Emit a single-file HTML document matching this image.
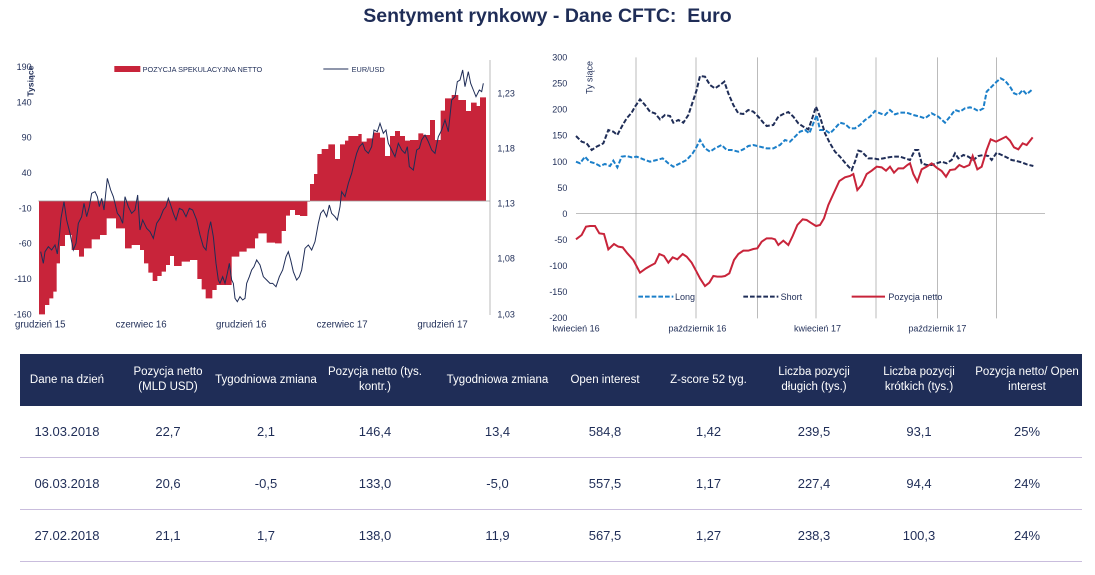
<!DOCTYPE html>
<html><head><meta charset="utf-8"><style>
body{margin:0;width:1095px;height:575px;background:#fff;position:relative;overflow:hidden;font-family:"Liberation Sans",sans-serif}
.t{position:absolute;left:0;width:1095px;top:5px;text-align:center;font-size:19.5px;font-weight:bold;color:#1f2d57}
svg{position:absolute}
table{position:absolute;left:20px;top:354px;width:1062px;border-collapse:collapse;table-layout:fixed}
th{background:#1f2d57;color:#fff;font-weight:normal;font-size:11.5px;height:52px;line-height:15px;padding:0;white-space:nowrap;font-family:"Liberation Sans",sans-serif}
th div{margin:0 -15px;text-align:center}
td{height:51px;padding:0;border-bottom:1px solid #c9bddd;text-align:center;font-size:13px;color:#1f2d57;font-family:"Liberation Sans",sans-serif}
</style></head><body>
<div class="t">Sentyment rynkowy - Dane CFTC:&nbsp; Euro</div>

<svg style="left:0;top:50px" width="540" height="280" viewBox="0 0 1620 840">
<g font-family="Liberation Sans, sans-serif" font-size="27" fill="#1f2d57">
<text x="95" y="60" text-anchor="end">190</text>
<text x="95" y="166" text-anchor="end">140</text>
<text x="95" y="272" text-anchor="end">90</text>
<text x="95" y="378" text-anchor="end">40</text>
<text x="95" y="484" text-anchor="end">-10</text>
<text x="95" y="590" text-anchor="end">-60</text>
<text x="95" y="696" text-anchor="end">-110</text>
<text x="95" y="802" text-anchor="end">-160</text>
<text x="1492" y="140">1,23</text>
<text x="1492" y="305">1,18</text>
<text x="1492" y="470">1,13</text>
<text x="1492" y="635">1,08</text>
<text x="1492" y="802">1,03</text>
<text x="45" y="832" font-size="29">grudzień 15</text>
<text x="347" y="832" font-size="29">czerwiec 16</text>
<text x="648" y="832" font-size="29">grudzień 16</text>
<text x="950" y="832" font-size="29">czerwiec 17</text>
<text x="1252" y="832" font-size="29">grudzień 17</text>
<text transform="translate(100,140) rotate(-90)" font-weight="bold" font-size="26">Tysiące</text>
<text x="428" y="66" font-size="22">POZYCJA SPEKULACYJNA NETTO</text>
<text x="1055" y="66" font-size="22">EUR/USD</text>
</g>
<rect x="343" y="48" width="78" height="18" fill="#c8243a"/>
<line x1="970" y1="57" x2="1045" y2="57" stroke="#1f2d57" stroke-width="3"/>
<polygon fill="#c8243a" points="117,453 117,793 135,793 135,765 148,765 148,745 160,745 160,725 170,725 170,640 180,640 180,588 195,588 195,555 215,555 215,600 237,600 237,620 252,620 252,595 275,595 275,568 300,568 300,555 320,555 320,505 348,505 348,535 375,535 375,595 395,595 395,585 420,585 420,600 432,600 432,640 445,640 445,668 458,668 458,693 472,693 472,678 485,678 485,665 498,665 498,645 510,645 510,618 522,618 522,648 545,648 545,635 570,635 570,630 592,630 592,687 605,687 605,718 617,718 617,745 637,745 637,720 650,720 650,705 695,705 695,620 718,620 718,605 740,605 740,595 765,595 765,565 775,565 775,550 800,550 800,578 825,578 825,580 845,580 845,543 858,543 858,497 870,497 870,480 885,480 885,495 900,495 900,498 922,498 922,455 930,455 930,402 942,402 942,372 952,372 952,312 965,312 965,297 985,297 985,283 1005,283 1005,327 1020,327 1020,283 1035,283 1035,272 1045,272 1045,258 1075,258 1075,252 1085,252 1085,275 1100,275 1100,265 1120,265 1120,248 1140,248 1140,263 1155,263 1155,318 1170,318 1170,258 1185,258 1185,243 1200,243 1200,258 1215,258 1215,272 1230,272 1230,270 1255,270 1255,250 1270,250 1270,255 1290,255 1290,210 1305,210 1305,270 1322,270 1322,182 1335,182 1335,145 1355,145 1355,135 1375,135 1375,150 1398,150 1398,183 1413,183 1413,158 1430,158 1430,168 1440,168 1440,142 1458,142 1458,453"/>
<line x1="115" y1="453" x2="1470" y2="453" stroke="#999" stroke-width="2"/>
<line x1="1470" y1="30" x2="1470" y2="795" stroke="#999" stroke-width="2"/>
<polyline fill="none" stroke="#1f2d57" stroke-width="3" points="122,605 130,640 135,605 145,590 155,600 165,585 172,612 178,560 183,505 192,455 200,510 210,550 220,600 228,580 235,520 245,500 252,460 260,500 268,470 275,430 285,425 292,440 298,470 305,445 312,480 322,385 332,420 340,440 345,460 352,490 360,500 368,520 375,440 385,470 395,490 405,480 413,435 420,540 428,510 440,535 450,545 460,565 470,520 480,505 490,480 498,470 505,445 512,465 520,490 528,510 538,475 548,480 558,500 568,475 578,480 590,510 600,555 610,590 618,600 625,545 632,515 640,560 648,640 655,690 660,700 668,680 675,700 682,670 688,640 695,690 700,700 705,745 712,755 720,740 728,750 735,745 740,700 748,680 755,660 762,650 770,630 780,645 790,680 800,690 810,700 818,700 828,710 838,680 848,660 858,620 865,605 872,630 880,665 890,690 898,680 905,660 915,595 925,585 935,600 945,575 955,520 962,490 970,480 980,500 988,465 995,490 1005,500 1012,510 1020,470 1025,425 1035,440 1045,400 1055,370 1062,340 1070,310 1078,290 1088,280 1095,300 1105,310 1115,290 1122,240 1132,245 1140,220 1150,250 1158,240 1165,280 1175,300 1185,320 1195,280 1205,300 1215,310 1222,290 1228,350 1240,360 1250,300 1258,295 1265,270 1275,255 1285,275 1295,300 1305,310 1315,260 1325,240 1335,210 1345,245 1355,150 1365,140 1372,95 1380,90 1388,60 1395,110 1405,65 1412,100 1420,120 1428,140 1438,120 1445,125 1450,100"/>
</svg>

<svg style="left:540px;top:50px" width="540" height="290" viewBox="0 0 1620 870">
<g stroke="#999" stroke-width="2">
<line x1="288" y1="22" x2="288" y2="805"/><line x1="468" y1="22" x2="468" y2="805"/><line x1="652" y1="22" x2="652" y2="805"/><line x1="828" y1="22" x2="828" y2="805"/><line x1="1008" y1="22" x2="1008" y2="805"/><line x1="1192" y1="22" x2="1192" y2="805"/><line x1="1370" y1="22" x2="1370" y2="805"/>
<line x1="108" y1="491" x2="1515" y2="491"/>
</g>
<g font-family="Liberation Sans, sans-serif" font-size="27" fill="#1f2d57" text-anchor="end">
<text x="82" y="32">300</text><text x="82" y="110">250</text><text x="82" y="188">200</text><text x="82" y="266">150</text><text x="82" y="345">100</text><text x="82" y="423">50</text><text x="82" y="501">0</text><text x="82" y="579">-50</text><text x="82" y="657">-100</text><text x="82" y="735">-150</text><text x="82" y="813">-200</text>
</g>
<g font-family="Liberation Sans, sans-serif" font-size="27" fill="#1f2d57">
<text x="38" y="845">kwiecień 16</text><text x="385" y="845">październik 16</text><text x="762" y="845">kwiecień 17</text><text x="1105" y="845">październik 17</text>
<text transform="translate(157,132) rotate(-90)">Ty siące</text>
<text x="405" y="750">Long</text><text x="722" y="750">Short</text><text x="1045" y="750">Pozycja netto</text>
</g>
<line x1="295" y1="740" x2="400" y2="740" stroke="#1b7fc9" stroke-width="6" stroke-dasharray="14,6"/>
<line x1="610" y1="740" x2="715" y2="740" stroke="#1f2d57" stroke-width="6" stroke-dasharray="14,6"/>
<line x1="935" y1="740" x2="1035" y2="740" stroke="#c8243a" stroke-width="6"/>
<polyline fill="none" stroke="#1b7fc9" stroke-width="6" stroke-dasharray="14,6" points="108,335 120,340 135,320 148,335 165,340 180,348 195,342 210,348 220,332 232,352 245,320 260,318 275,322 290,320 310,328 330,335 350,330 368,325 385,340 400,350 420,340 440,330 458,310 470,290 480,270 495,295 510,305 525,295 545,285 560,300 575,300 595,305 610,298 625,288 640,285 660,290 680,295 700,295 720,285 735,270 750,275 765,260 780,245 795,240 808,250 820,220 830,195 840,240 855,240 870,250 885,235 900,218 915,222 930,235 945,235 960,225 975,210 990,200 1005,183 1020,190 1035,195 1050,180 1065,193 1080,188 1100,188 1120,195 1140,200 1155,205 1175,190 1195,200 1215,218 1230,200 1245,180 1260,185 1275,175 1290,172 1300,175 1315,183 1330,175 1340,125 1355,110 1370,95 1382,85 1395,92 1410,110 1422,130 1435,135 1448,120 1460,133 1475,120"/>
<polyline fill="none" stroke="#1f2d57" stroke-width="6" stroke-dasharray="14,6" points="108,258 125,275 140,280 155,300 170,290 190,280 205,240 220,245 232,255 248,225 260,205 275,188 285,170 300,148 315,165 330,185 345,190 360,208 375,195 390,198 400,218 415,210 430,218 445,195 460,150 470,120 480,78 495,80 510,105 525,115 540,105 553,95 565,130 580,165 595,190 610,192 625,180 640,185 655,200 670,218 680,228 700,225 715,200 730,192 745,186 760,200 775,220 790,230 805,238 815,210 828,170 840,200 855,250 870,280 885,305 900,320 915,338 935,360 945,335 955,302 965,305 975,315 985,325 1000,325 1015,328 1030,325 1045,322 1060,320 1080,320 1095,325 1110,330 1125,300 1135,300 1145,340 1160,345 1175,345 1190,340 1205,335 1220,340 1235,330 1245,310 1255,325 1270,315 1285,320 1300,330 1315,318 1330,315 1345,318 1355,330 1370,308 1385,315 1400,322 1415,330 1430,333 1445,337 1460,343 1480,348"/>
<polyline fill="none" stroke="#c8243a" stroke-width="6" points="108,568 125,555 138,530 150,528 165,528 178,550 192,552 205,598 222,582 235,590 248,592 262,610 280,630 300,668 318,655 330,648 345,640 358,612 372,618 385,638 398,622 412,628 428,612 440,620 455,638 468,662 480,685 495,708 508,698 520,678 532,680 545,680 555,678 568,670 582,630 595,612 610,602 625,602 640,597 652,595 665,575 680,565 695,565 705,568 715,585 730,572 745,585 758,558 772,525 788,508 800,510 812,518 828,528 840,525 852,505 865,465 880,432 898,393 915,382 930,378 940,372 952,420 965,405 980,372 995,362 1010,350 1025,352 1038,362 1050,350 1062,368 1075,355 1090,355 1102,345 1110,340 1120,372 1132,395 1145,358 1160,350 1175,340 1190,353 1205,363 1218,380 1230,360 1245,358 1258,345 1272,352 1288,345 1298,318 1312,358 1325,350 1340,300 1352,268 1368,275 1382,268 1398,260 1410,272 1422,292 1435,298 1448,280 1460,285 1478,262"/>
</svg>

<table>
<colgroup><col style="width:94px"><col style="width:108px"><col style="width:88px"><col style="width:130px"><col style="width:115px"><col style="width:100px"><col style="width:107px"><col style="width:104px"><col style="width:106px"><col></colgroup>
<tr><th><div>Dane na dzień</div></th><th><div>Pozycja netto<br>(MLD USD)</div></th><th><div>Tygodniowa zmiana</div></th><th><div>Pozycja netto (tys.<br>kontr.)</div></th><th><div>Tygodniowa zmiana</div></th><th><div>Open interest</div></th><th><div>Z-score 52 tyg.</div></th><th><div>Liczba pozycji<br>długich (tys.)</div></th><th><div>Liczba pozycji<br>krótkich (tys.)</div></th><th><div>Pozycja netto/ Open<br>interest</div></th></tr>
<tr><td>13.03.2018</td><td>22,7</td><td>2,1</td><td>146,4</td><td>13,4</td><td>584,8</td><td>1,42</td><td>239,5</td><td>93,1</td><td>25%</td></tr>
<tr><td>06.03.2018</td><td>20,6</td><td>-0,5</td><td>133,0</td><td>-5,0</td><td>557,5</td><td>1,17</td><td>227,4</td><td>94,4</td><td>24%</td></tr>
<tr><td>27.02.2018</td><td>21,1</td><td>1,7</td><td>138,0</td><td>11,9</td><td>567,5</td><td>1,27</td><td>238,3</td><td>100,3</td><td>24%</td></tr>
</table>
</body></html>
